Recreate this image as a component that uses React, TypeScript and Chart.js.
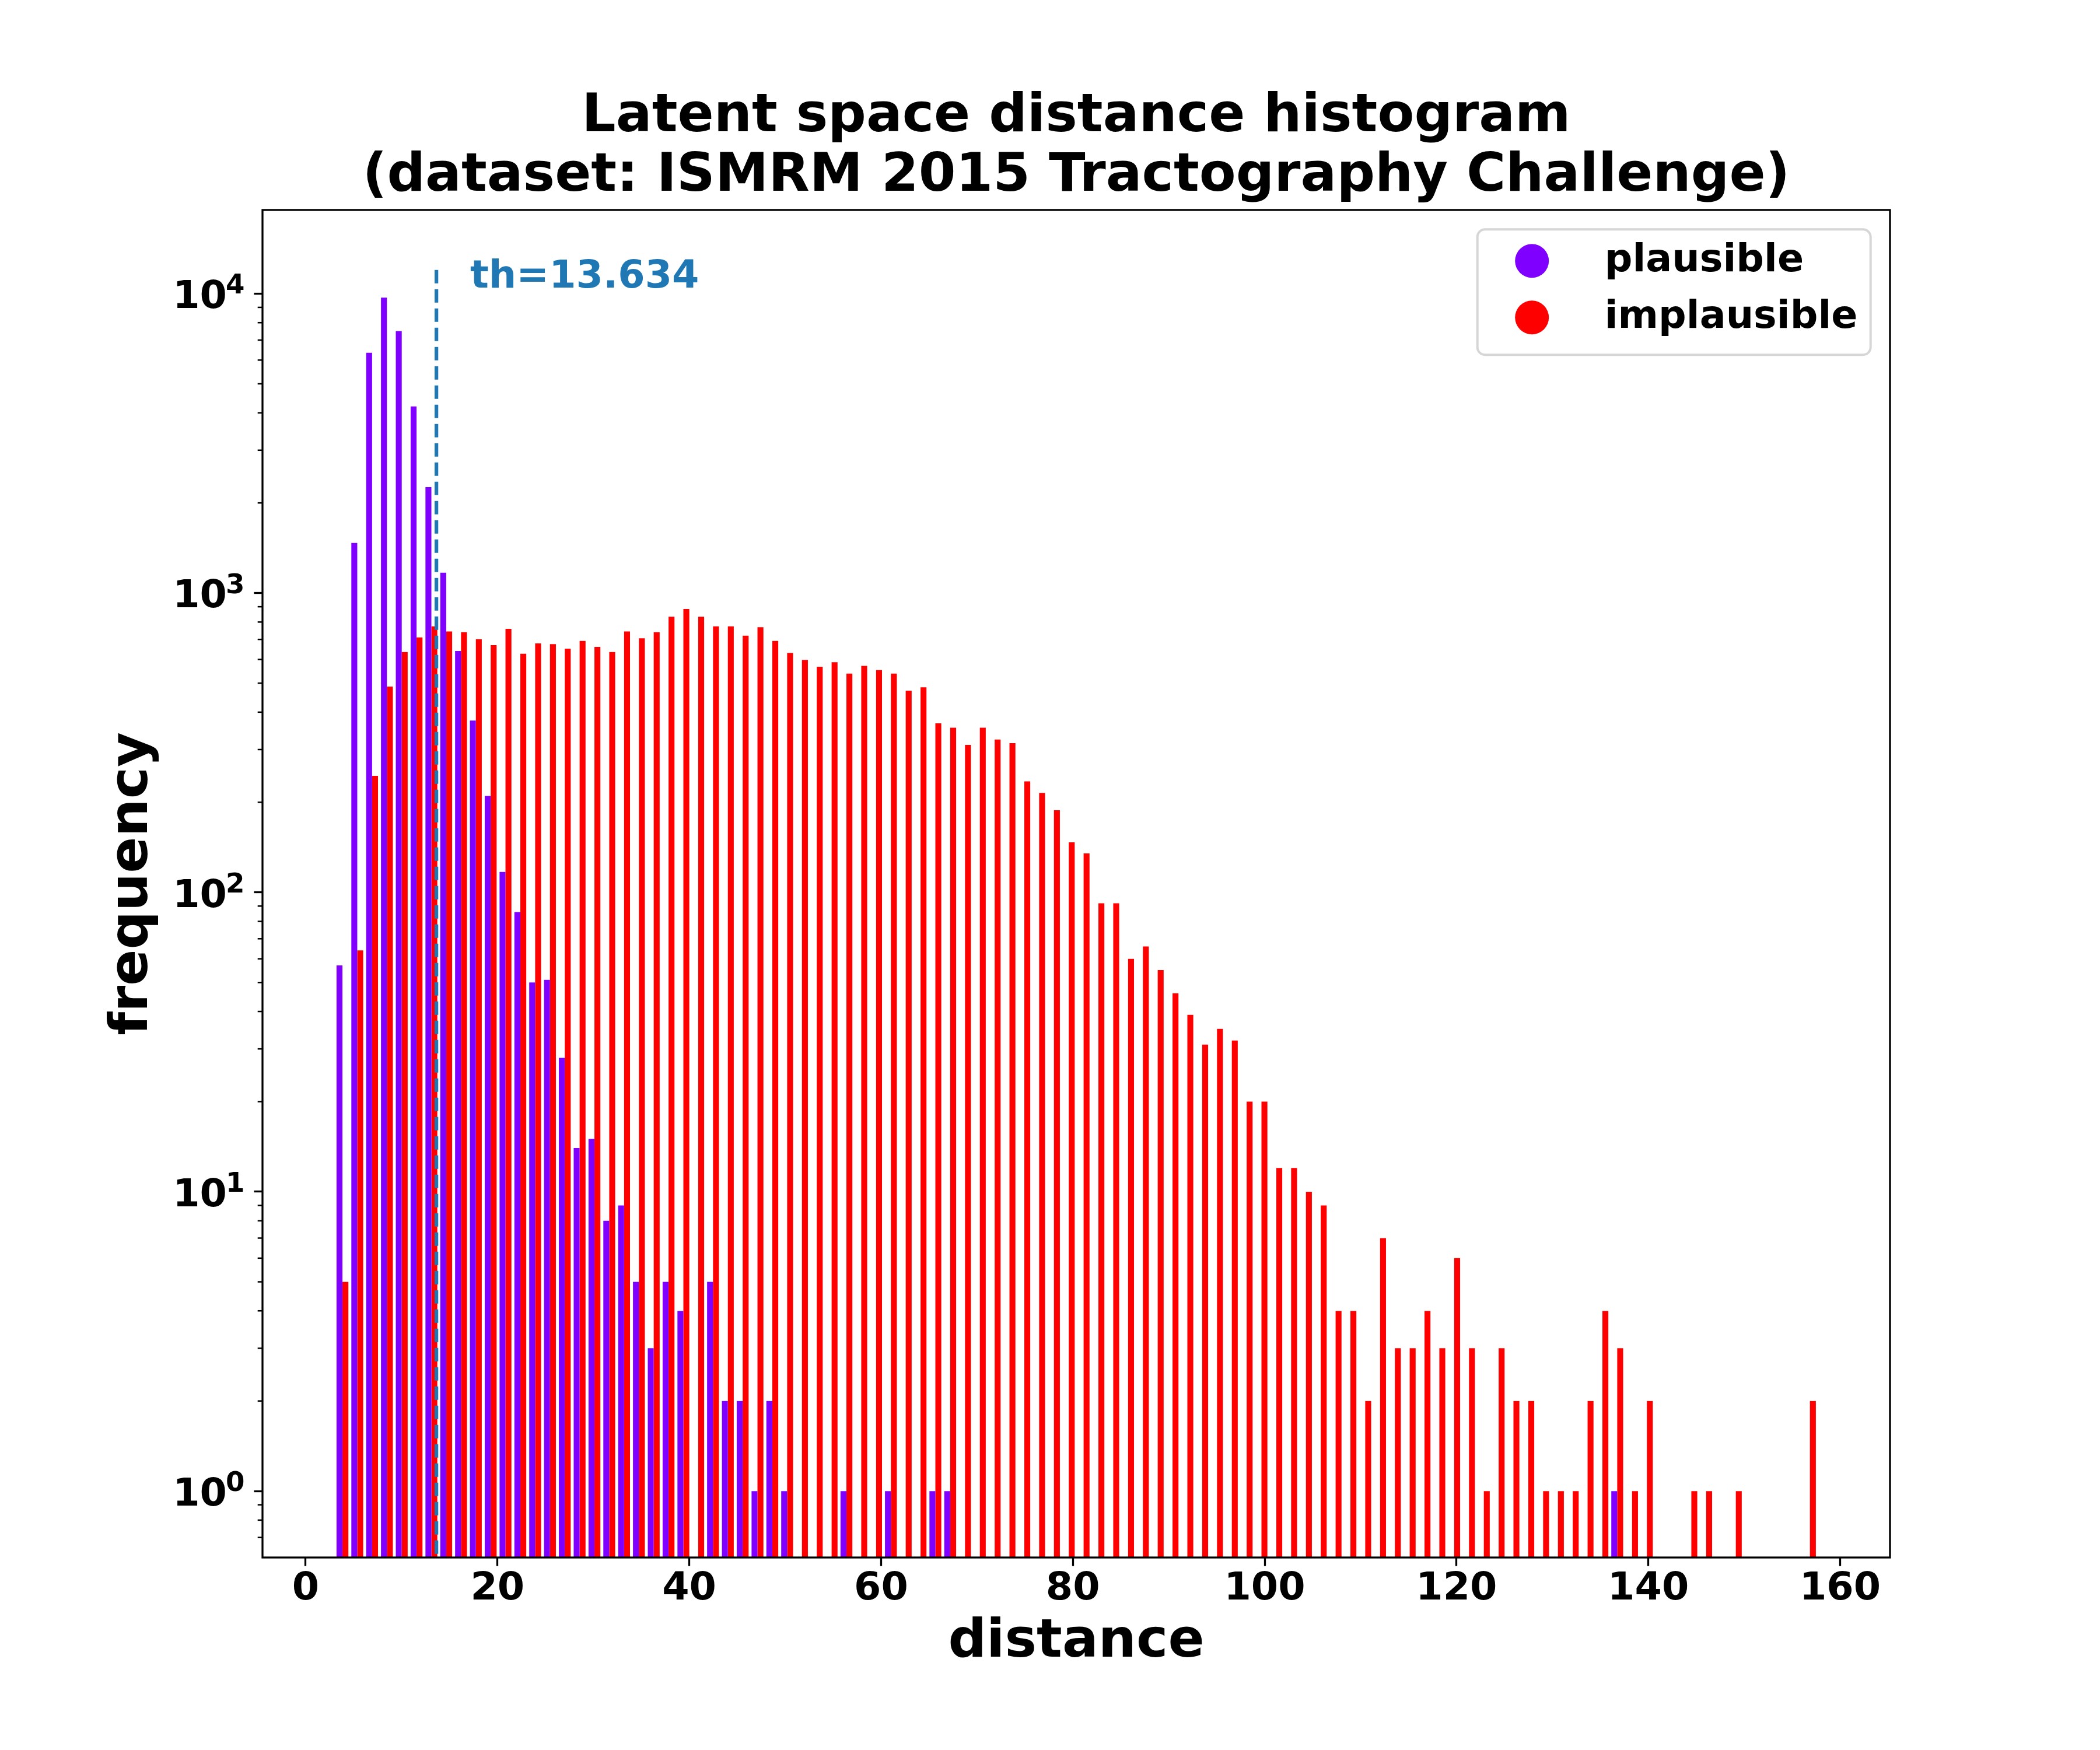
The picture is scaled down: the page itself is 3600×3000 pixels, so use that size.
import { useEffect, useRef } from "react";
import { Chart, registerables, type Plugin } from "chart.js";

Chart.register(...registerables);

const FONT = "'DejaVu Sans', sans-serif";

// histogram bins: 100 equal bins, edges start at BIN_START
const BIN_START = 3.063;
const BIN_WIDTH = 1.5456;

// counts per bin (0 = empty bin, not drawn on the log axis)
const PLAUSIBLE = [
  57, 1470, 6350, 9700, 7500, 4200, 2260, 1170, 640, 375,
  210, 117, 86, 50, 51, 28, 14, 15, 8, 9,
  5, 3, 5, 4, 0, 5, 2, 2, 1, 2,
  1, 0, 0, 0, 1, 0, 0, 1, 0, 0,
  1, 1, 0, 0, 0, 0, 0, 0, 0, 0,
  0, 0, 0, 0, 0, 0, 0, 0, 0, 0,
  0, 0, 0, 0, 0, 0, 0, 0, 0, 0,
  0, 0, 0, 0, 0, 0, 0, 0, 0, 0,
  0, 0, 0, 0, 0, 0, 1, 0, 0, 0,
  0, 0, 0, 0, 0, 0, 0, 0, 0, 0,
];

const IMPLAUSIBLE = [
  5, 64, 245, 487, 635, 711, 774, 744, 740, 701,
  670, 759, 627, 679, 675, 652, 692, 661, 635, 744,
  706, 740, 833, 884, 833, 774, 774, 720, 769, 692,
  631, 598, 567, 587, 538, 571, 553, 538, 472, 484,
  367, 355, 311, 355, 324, 315, 235, 215, 188, 147,
  135, 92, 92, 60, 66, 55, 46, 39, 31, 35,
  32, 20, 20, 12, 12, 10, 9, 4, 4, 2,
  7, 3, 3, 4, 3, 6, 3, 1, 3, 2,
  2, 1, 1, 1, 2, 4, 3, 1, 2, 0,
  0, 1, 1, 0, 1, 0, 0, 0, 0, 2,
];

const SERIES_LABELS = ["plausible", "implausible"];
const SERIES_COLORS = ["#7f00ff", "#ff0000"];

const THRESHOLD = 13.634;
const THRESHOLD_TOP = 12000;
const TH_LABEL_X = 17.15;
const TH_LABEL_Y = 10500;

const X_TICKS = [0, 20, 40, 60, 80, 100, 120, 140, 160];
const Y_MAJOR = [1, 10, 100, 1000, 10000];
const Y_EXPONENTS = ["0", "1", "2", "3", "4"];

const X_MIN = -4.5;
const X_MAX = 165.2;
const Y_MIN = 0.6225;
const Y_MAX = 19040;

function yTickValues() {
  const out: number[] = [];
  for (const d of [0.1, ...Y_MAJOR]) {
    for (let m = 1; m < 10; m++) {
      const v = Math.round(d * m * 1000) / 1000;
      if (v >= Y_MIN && v <= Y_MAX) out.push(v);
    }
  }
  return out;
}

function toPoints(counts: number[]) {
  return counts.map((c, i) => ({
    x: BIN_START + (i + 0.5) * BIN_WIDTH,
    y: c > 0 ? c : null,
  }));
}

const decorPlugin: Plugin<"bar"> = {
  id: "decor",
  afterDatasetsDraw(chart) {
    const { ctx, chartArea: a, scales } = chart;
    const xs = scales.x;
    const ys = scales.y;
    ctx.save();

    // minor ticks on the log axis
    ctx.strokeStyle = "#000";
    ctx.lineWidth = 2.5;
    ys.ticks.forEach((t) => {
      if (Y_MAJOR.includes(t.value)) return;
      const py = ys.getPixelForValue(t.value);
      ctx.beginPath();
      ctx.moveTo(a.left - 8.3, py);
      ctx.lineTo(a.left, py);
      ctx.stroke();
    });

    // 10^n labels, exponent raised and smaller
    ctx.fillStyle = "#000";
    ctx.textBaseline = "alphabetic";
    ctx.textAlign = "right";
    const labelRight = a.left - 30.5;
    Y_MAJOR.forEach((v, k) => {
      const py = ys.getPixelForValue(v);
      ctx.font = `bold 46.7px ${FONT}`;
      const supW = ctx.measureText(Y_EXPONENTS[k]).width;
      ctx.fillText(Y_EXPONENTS[k], labelRight, py);
      ctx.font = `bold 66.7px ${FONT}`;
      ctx.fillText("10", labelRight - supW + 2, py + 24.7);
    });

    // threshold line + label
    const tx = xs.getPixelForValue(THRESHOLD);
    ctx.strokeStyle = "#1f77b4";
    ctx.lineWidth = 6.25;
    ctx.setLineDash([23, 10]);
    ctx.beginPath();
    ctx.moveTo(tx, ys.getPixelForValue(THRESHOLD_TOP));
    ctx.lineTo(tx, a.bottom);
    ctx.stroke();
    ctx.setLineDash([]);
    ctx.fillStyle = "#1f77b4";
    ctx.font = `bold 66.7px ${FONT}`;
    ctx.textAlign = "left";
    ctx.textBaseline = "alphabetic";
    ctx.fillText(`th=${THRESHOLD}`, xs.getPixelForValue(TH_LABEL_X), ys.getPixelForValue(TH_LABEL_Y));

    // axes frame
    ctx.strokeStyle = "#000";
    ctx.lineWidth = 3.3;
    ctx.strokeRect(a.left, a.top, a.right - a.left, a.bottom - a.top);

    // legend
    const bw = 674;
    const bh = 215;
    const bx = a.right - 33.3 - bw;
    const by = a.top + 33.3;
    ctx.beginPath();
    ctx.roundRect(bx, by, bw, bh, 13);
    ctx.fillStyle = "rgba(255,255,255,0.8)";
    ctx.fill();
    ctx.strokeStyle = "#d6d6d6";
    ctx.lineWidth = 4;
    ctx.stroke();
    chart.data.datasets.forEach((ds, i) => {
      const cy = by + 54 + i * 97;
      ctx.beginPath();
      ctx.arc(bx + 93.5, cy, 29, 0, Math.PI * 2);
      ctx.fillStyle = ds.backgroundColor as string;
      ctx.fill();
      ctx.fillStyle = "#000";
      ctx.font = `bold 66.7px ${FONT}`;
      ctx.textAlign = "left";
      ctx.textBaseline = "middle";
      ctx.fillText(ds.label ?? "", bx + 218, cy);
    });

    ctx.restore();
  },
};

export default function App() {
  const canvasRef = useRef<HTMLCanvasElement>(null);

  useEffect(() => {
    if (!canvasRef.current) return;
    const tickFont = { family: FONT, size: 66.7, weight: "bold" as const };
    const labelFont = { family: FONT, size: 91.7, weight: "bold" as const };

    const chart = new Chart(canvasRef.current, {
      type: "bar",
      data: {
        datasets: [PLAUSIBLE, IMPLAUSIBLE].map((counts, i) => ({
          label: SERIES_LABELS[i],
          data: toPoints(counts) as any,
          backgroundColor: SERIES_COLORS[i],
          borderWidth: 0,
          categoryPercentage: 0.8,
          barPercentage: 1,
        })),
      },
      options: {
        responsive: false,
        devicePixelRatio: 1,
        animation: false,
        events: [],
        layout: { padding: { left: 0, top: 0, right: 360, bottom: 0 } },
        plugins: {
          legend: { display: false },
          tooltip: { enabled: false },
          title: {
            display: true,
            fullSize: false,
            text: [
              "Latent space distance histogram",
              "(dataset: ISMRM 2015 Tractography Challenge)",
            ],
            color: "#000",
            font: { ...labelFont, lineHeight: 1.112 },
            padding: { top: 150.6, bottom: 5.4 },
          },
        },
        scales: {
          x: {
            type: "linear",
            min: X_MIN,
            max: X_MAX,
            offset: false,
            afterBuildTicks: (s) => {
              s.ticks = X_TICKS.map((v) => ({ value: v }));
            },
            afterFit: (s) => {
              s.height = 330;
            },
            grid: {
              offset: false,
              drawOnChartArea: false,
              drawTicks: true,
              tickLength: 14.6,
              tickWidth: 3.3,
              tickColor: "#000",
            },
            border: { display: false },
            ticks: {
              autoSkip: false,
              maxRotation: 0,
              padding: 0,
              color: "#000",
              font: tickFont,
              callback: (v) => String(v),
            },
            title: {
              display: true,
              text: "distance",
              color: "#000",
              font: labelFont,
              padding: { top: 0, bottom: 129 },
            },
          },
          y: {
            type: "logarithmic",
            min: Y_MIN,
            max: Y_MAX,
            afterBuildTicks: (s) => {
              s.ticks = yTickValues().map((v) => ({ value: v, major: Y_MAJOR.includes(v) }));
            },
            afterFit: (s) => {
              s.width = 450;
            },
            grid: {
              drawOnChartArea: false,
              drawTicks: true,
              tickLength: 14.6,
              tickWidth: 3.3,
              tickColor: (c: any) =>
                c.tick && Y_MAJOR.includes(c.tick.value) ? "#000" : "rgba(0,0,0,0)",
            },
            border: { display: false },
            ticks: {
              autoSkip: false,
              padding: 15.4,
              color: "#000",
              font: tickFont,
              // labels are drawn by the decor plugin (superscript exponents)
              callback: () => "",
            },
            title: {
              display: true,
              text: "frequency",
              color: "#000",
              font: labelFont,
              padding: { top: 173, bottom: 0 },
            },
          },
        },
      },
      plugins: [decorPlugin],
    });

    return () => {
      chart.destroy();
    };
  }, []);

  return (
    <div style={{ position: "absolute", left: 0, top: 0, width: 3600, height: 3000, background: "#fff" }}>
      <canvas ref={canvasRef} width={3600} height={3000} style={{ display: "block" }} />
    </div>
  );
}
